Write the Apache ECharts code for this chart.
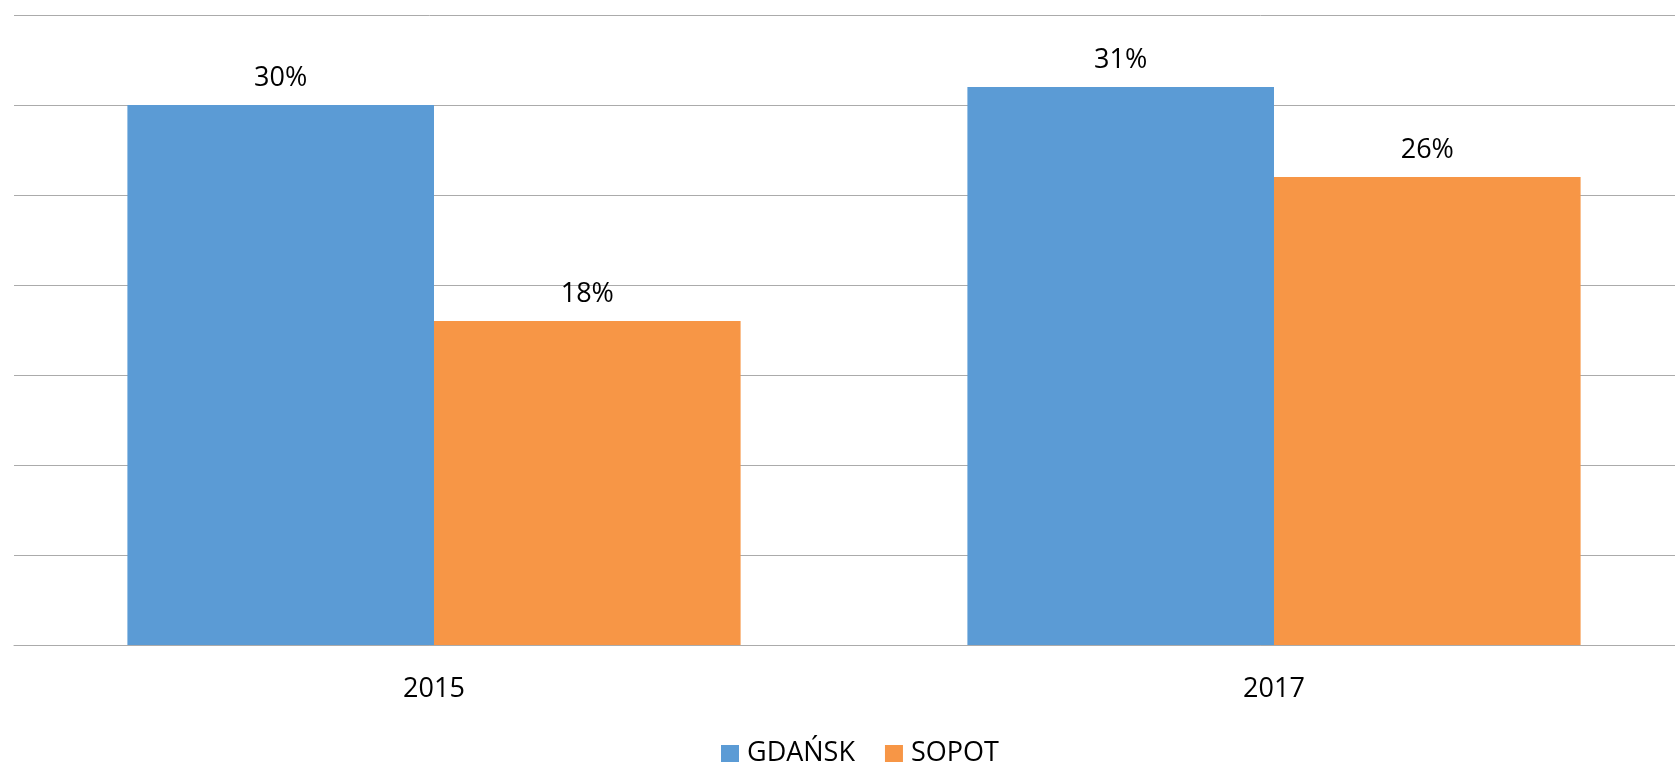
<!DOCTYPE html>
<html>
<head>
<meta charset="utf-8">
<script src="https://cdn.jsdelivr.net/npm/echarts@6/dist/echarts.min.js"></script>
<style>
html,body{margin:0;padding:0;background:#fff;}
#chart{width:1675px;height:762px;}
</style>
</head>
<body>
<div id="chart"></div>
<script>
// dane
var years=['2015','2017'];
var gdansk=[30,31];
var sopot=[18,26];
var seriesNames=['GDAŃSK','SOPOT'];

var font='"Open Sans", "Noto Sans", sans-serif';
var myChart=echarts.init(document.getElementById('chart'));

function barLabel(){
    return {
        show:true,
        position:'top',
        distance:13,
        formatter:'{c}%',
        color:'#000',
        fontSize:27,
        fontFamily:font
    };
}

var option={
    backgroundColor:'#fff',
    animation:false,
    // plot area runs a bit past the right edge, like in the source
    grid:{left:14,width:1680,top:15,bottom:117,outerBoundsMode:'none'},
    legend:{
        data:seriesNames,
        top:735,
        left:716,
        itemWidth:18,
        itemHeight:17,
        itemGap:30,
        icon:'rect',
        textStyle:{color:'#000',fontSize:27,fontFamily:font,padding:[0,0,0,3]}
    },
    xAxis:{
        type:'category',
        data:years,
        axisLine:{show:true,lineStyle:{color:'#ababab',width:1}},
        axisTick:{show:false},
        axisLabel:{color:'#000',fontSize:27,fontFamily:font,margin:31}
    },
    yAxis:{
        type:'value',
        min:0,
        max:35,
        interval:5,
        axisLine:{show:false},
        axisTick:{show:false},
        axisLabel:{show:false},
        splitLine:{lineStyle:{color:'#ababab',width:1}}
    },
    color:['#5b9bd5','#f79646'],
    series:[
        {
            name:seriesNames[0],
            type:'bar',
            data:gdansk,
            barGap:'0%',
            barCategoryGap:'27%',
            label:barLabel()
        },
        {
            name:seriesNames[1],
            type:'bar',
            data:sopot,
            barGap:'0%',
            barCategoryGap:'27%',
            label:barLabel()
        }
    ]
};
myChart.setOption(option);
</script>
</body>
</html>
